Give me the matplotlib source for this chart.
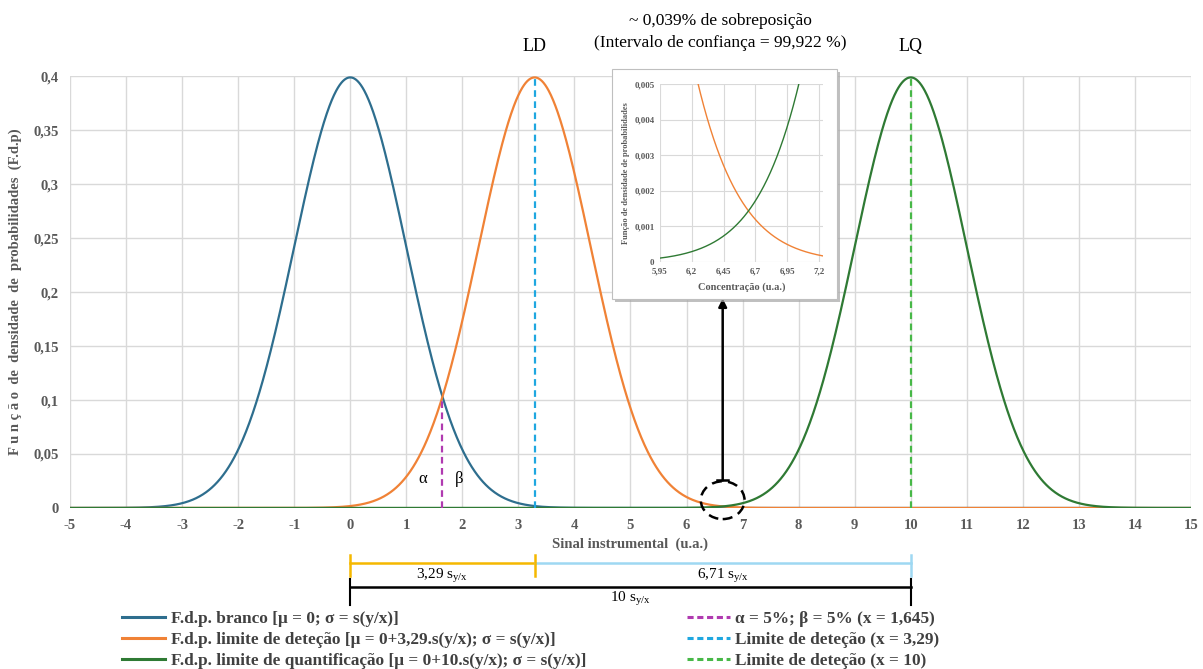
import numpy as np
import matplotlib.pyplot as plt
from matplotlib.patches import Ellipse, Rectangle
from matplotlib.lines import Line2D
from matplotlib.ticker import FuncFormatter, MultipleLocator
from matplotlib.transforms import blended_transform_factory

plt.rcParams['font.family'] = ['Liberation Serif', 'DejaVu Serif']
plt.rcParams['mathtext.fontset'] = 'custom'
plt.rcParams['mathtext.rm'] = 'Liberation Serif'
plt.rcParams['mathtext.it'] = 'Liberation Serif:italic'

means = [0.0, 3.29, 10.0]
sigmas = [1.0, 1.0, 1.0]
curve_labels = ['F.d.p. branco [\u03bc = 0; \u03c3 = s(y/x)]',
                'F.d.p. limite de deteção [\u03bc = 0+3,29.s(y/x); \u03c3 = s(y/x)]',
                'F.d.p. limite de quantificação [\u03bc = 0+10.s(y/x); \u03c3 = s(y/x)]']
curve_colors = ['#2E6E8E', '#F08236', '#2F7A34']

# Linhas verticais tracejadas
vline_x = [1.645, 3.29, 10.0]
vline_labels = ['\u03b1 = 5%; \u03b2 = 5% (x = 1,645)',
                'Limite de deteção (x = 3,29)',
                'Limite de deteção (x = 10)']
vline_colors = ['#B03AB0', '#1FA7E0', '#47B847']

overlap_x = 6.645
x_range = (-5, 15)
inset_range = (5.95, 7.23)


def pdf(x, mu, s):
    return np.exp(-0.5 * ((x - mu) / s) ** 2) / (s * np.sqrt(2 * np.pi))


def comma(v, pos=None):
    s = ('%g' % round(v, 6))
    return s.replace('.', ',')


gray = '#595959'
fig = plt.figure(figsize=(12.03, 6.69), dpi=100)
ax = fig.add_axes([0.0582, 0.2407, 0.9318, 0.6453])

x = np.linspace(x_range[0], x_range[1], 2001)
zorders = [2, 3, 4]
for mu, s, c, z in zip(means, sigmas, curve_colors, zorders):
    ax.plot(x, pdf(x, mu, s), color=c, lw=1.6, zorder=z)

# linhas verticais
ymax_v = [pdf(vline_x[0], means[0], sigmas[0]), pdf(vline_x[1], means[1], sigmas[1]),
          pdf(vline_x[2], means[2], sigmas[2])]
for xv, yv, c in zip(vline_x, ymax_v, vline_colors):
    ax.plot([xv, xv], [0, yv], color=c, lw=1.6, ls=(0, (3, 2)), zorder=5)

ax.set_xlim(*x_range)
ax.set_ylim(0, 0.4)
ax.xaxis.set_major_locator(MultipleLocator(1))
ax.yaxis.set_major_locator(MultipleLocator(0.05))
ax.xaxis.set_major_formatter(FuncFormatter(comma))
ax.yaxis.set_major_formatter(FuncFormatter(comma))
ax.grid(True, color='#D9D9D9', lw=1)
ax.set_axisbelow(True)
for sp in ax.spines.values():
    sp.set_visible(False)
ax.tick_params(length=0, labelsize=10.5, labelcolor=gray, pad=8)
for lab in ax.get_xticklabels() + ax.get_yticklabels():
    lab.set_fontweight('bold')
ax.set_xlabel('Sinal instrumental  (u.a.)', fontsize=10.5, fontweight='bold', color=gray, labelpad=4)
ax.set_ylabel('F u n ç ã o  de  densidade  de  probabilidades  (F.d.p)', fontsize=10.5,
              fontweight='bold', color=gray, labelpad=8)

ax.text(1.3, 0.027, '\u03b1', fontsize=12, ha='center', va='center')
ax.text(1.95, 0.027, '\u03b2', fontsize=12, ha='center', va='center')

# elipse e seta para o detalhe
ax.add_patch(Ellipse((overlap_x, 0.0072), 0.78, 0.035, fill=False, ec='black',
                     lw=1.8, ls=(0, (4, 2.5)), zorder=6, clip_on=False))
ax.annotate('', xy=(overlap_x, 0.554), xycoords=('data', 'figure fraction'),
            xytext=(overlap_x, 0.0255), textcoords='data',
            arrowprops=dict(arrowstyle='-|>', color='black', lw=1.8, mutation_scale=12,
                            shrinkA=0, shrinkB=0))
ax.plot([overlap_x - 0.1, overlap_x + 0.1], [0.0255, 0.0255], color='black', lw=1.8, zorder=6)

tb = blended_transform_factory(ax.transData, fig.transFigure)
ax.text(means[1], 0.93, 'LD', transform=tb, fontsize=13, ha='center', va='center')
ax.text(means[2], 0.93, 'LQ', transform=tb, fontsize=13, ha='center', va='center')
fig.text(0.599, 0.969, '~ 0,039% de sobreposição', fontsize=12.5, ha='center', va='center')
fig.text(0.599, 0.936, '(Intervalo de confiança = 99,922 %)', fontsize=12.5, ha='center', va='center')

# colchetes de distância
yb1 = 1 - 563 / 669
yb2 = 1 - 587 / 669
ax.plot([0, 3.29], [yb1, yb1], color='#F5B800', lw=1.8, transform=tb, clip_on=False)
ax.plot([3.29, 10], [yb1, yb1], color='#9ED8F2', lw=1.8, transform=tb, clip_on=False)
for xv, c in [(0, '#F5B800'), (3.29, '#F5B800'), (10, '#9ED8F2')]:
    ax.plot([xv, xv], [yb1 + 0.012, yb1 - 0.02], color=c, lw=1.8, transform=tb, clip_on=False)
ax.plot([0, 10], [yb2, yb2], color='black', lw=1.8, transform=tb, clip_on=False)
for xv in [0, 10]:
    ax.plot([xv, xv], [yb2 + 0.012, yb2 - 0.027], color='black', lw=1.5, transform=tb, clip_on=False)
ax.text(1.645, 1 - 576 / 669, '3,29 s$_{\\mathrm{y/x}}$', transform=tb, fontsize=11, ha='center', va='center')
ax.text(6.645, 1 - 576 / 669, '6,71 s$_{\\mathrm{y/x}}$', transform=tb, fontsize=11, ha='center', va='center')
ax.text(5.0, 1 - 599 / 669, '10 s$_{\\mathrm{y/x}}$', transform=tb, fontsize=11, ha='center', va='center')

# legendas
h1 = [Line2D([], [], color=c, lw=2.2) for c in curve_colors]
h2 = [Line2D([], [], color=c, lw=2.2, ls=(0, (2, 1.2))) for c in vline_colors]
leg_kw = dict(frameon=False, handlelength=2.5, handletextpad=0.3, labelspacing=0.3,
              prop={'size': 12.4, 'weight': 'bold'}, labelcolor='#404040', borderaxespad=0)
fig.legend(h1, curve_labels, loc='upper left', bbox_to_anchor=(0.096, 0.0975), **leg_kw)
fig.legend(h2, vline_labels, loc='upper left', bbox_to_anchor=(0.565, 0.0975), **leg_kw)

# detalhe (inset)
frame = Rectangle((0.5087, 0.553), 0.187, 0.344, transform=fig.transFigure, facecolor='white',
                  edgecolor='#BFBFBF', lw=0.8, zorder=9)
shadow = Rectangle((0.5112, 0.549), 0.187, 0.344, transform=fig.transFigure, facecolor='#A6A6A6',
                   edgecolor='none', zorder=8, alpha=0.7)
fig.patches.extend([shadow, frame])

axi = fig.add_axes([0.5486, 0.6084, 0.1355, 0.266], zorder=10)
axi.set_facecolor('none')
xi = np.linspace(inset_range[0], inset_range[1], 400)
axi.plot(xi, pdf(xi, means[1], sigmas[1]), color=curve_colors[1], lw=1.0)
axi.plot(xi, pdf(xi, means[2], sigmas[2]), color=curve_colors[2], lw=1.0)
axi.set_xlim(*inset_range)
axi.set_ylim(0, 0.005)
axi.set_xticks([5.95, 6.2, 6.45, 6.7, 6.95, 7.2])
axi.yaxis.set_major_locator(MultipleLocator(0.001))
axi.xaxis.set_major_formatter(FuncFormatter(comma))
axi.yaxis.set_major_formatter(FuncFormatter(comma))
axi.grid(True, color='#D9D9D9', lw=0.8)
axi.set_axisbelow(True)
for sp in axi.spines.values():
    sp.set_visible(False)
axi.tick_params(length=0, labelsize=6.5, labelcolor=gray, pad=4)
for lab in axi.get_xticklabels() + axi.get_yticklabels():
    lab.set_fontweight('bold')
axi.set_xlabel('Concentração (u.a.)', fontsize=7.5, fontweight='bold', color=gray, labelpad=5)
axi.set_ylabel('Função de densidade de probabilidades', fontsize=6, fontweight='bold',
               color=gray, labelpad=3)

fig.savefig('out.png', dpi=100)
